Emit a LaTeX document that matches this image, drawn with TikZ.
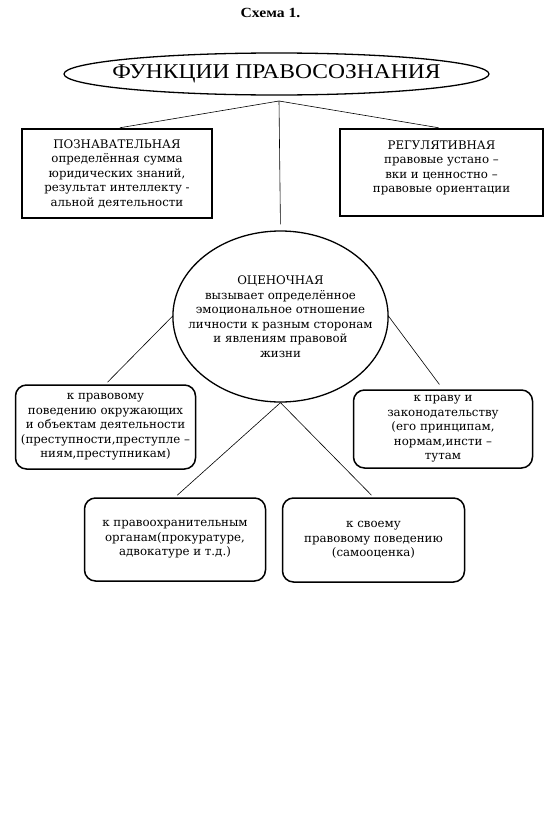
\documentclass[tikz,border=0pt]{standalone}
\usepackage{fontspec}
\setmainfont{DejaVu Serif}
\newfontfamily\timesfont[FakeStretch=1.12]{Liberation Serif}
\usetikzlibrary{shapes.geometric,positioning}

\begin{document}
\begin{tikzpicture}
		[shorten >=3pt,node distance=100pt,on grid,x=1pt,y=1pt,
		 box/.style={draw,line width=1.5pt,inner sep=0pt,align=center,
			font=\fontsize{11.8}{14.5}\selectfont},
		 rbox/.style={box,rounded corners=11pt},
		 link/.style={line width=0.6pt}]
		\useasboundingbox (0,0) rectangle (552,-819);
		\node[ellipse,draw,line width=1.3pt,minimum width=425pt,minimum height=42pt,inner sep=0pt,inner xsep=-14pt,
			font=\timesfont\fontsize{21}{24}\selectfont] (fn) at (276.5,-74) {ФУНКЦИИ ПРАВОСОЗНАНИЯ};
		\node[font=\timesfont\bfseries\fontsize{14}{16}\selectfont] (title) [above left=61pt and 6pt of fn] {Схема 1.};
		\coordinate[below right=27pt and 2.5pt of fn] (fork);
		\node[box,minimum width=190pt,minimum height=89pt] (pozn) [below left=99.5pt and 159.5pt of fn]
			{ПОЗНАВАТЕЛЬНАЯ\\определённая сумма\\юридических знаний,\\результат интеллекту -\\альной деятельности};
		\node[box,minimum width=203pt,minimum height=87pt] (reg) [below right=98.5pt and 165pt of fn]
			{РЕГУЛЯТИВНАЯ\\правовые устано –\\вки и ценностно –\\правовые ориентации\\[-3pt]};
		\node[ellipse,box,line width=1.3pt,inner xsep=-16pt,minimum width=214pt,minimum height=171pt] (ocen)
			[below right=242.5pt and 4pt of fn]
			{ОЦЕНОЧНАЯ\\вызывает определённое\\эмоциональное отношение\\личности к разным сторонам\\и явлениям правовой\\жизни};
		\node[rbox,minimum width=180pt,minimum height=84pt] (k_pov) [below left=110.5pt and 175pt of ocen]
			{к правовому\\поведению окружающих\\и объектам деятельности\\(преступности,преступле –\\ниям,преступникам)};
		\node[rbox,minimum width=179pt,minimum height=78pt] (k_zak) [below right=112.5pt and 162.5pt of ocen]
			{к праву и\\законодательству\\(его принципам,\\нормам,инсти –\\тутам};
		\node[rbox,minimum width=181pt,minimum height=83pt] (k_org) [below left=223pt and 105.5pt of ocen]
			{к правоохранительным\\органам(прокуратуре,\\адвокатуре и т.д.)};
		\node[rbox,minimum width=182pt,minimum height=84pt] (k_sam) [below right=223.5pt and 93pt of ocen]
			{к своему\\правовому поведению\\(самооценка)};
		\path[link]
		(fork) edge (pozn.north)
			   edge (reg.north)
			   edge [shorten >=6pt] (ocen.north)
		(ocen.west) edge (k_pov.north)
		(ocen.east) edge [shorten >=6pt] (k_zak.north)
		(ocen.south) edge (k_org.north)
			   edge (k_sam.north)
		;
		\end{tikzpicture}
\end{document}
